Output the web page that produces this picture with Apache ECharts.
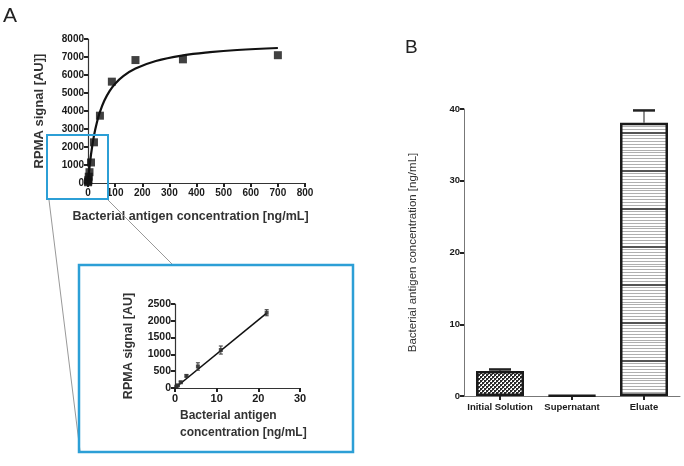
<!DOCTYPE html>
<html><head><meta charset="utf-8">
<script src="https://cdn.jsdelivr.net/npm/echarts@6/dist/echarts.min.js"></script>
<style>html,body{margin:0;padding:0;background:#fff}#c{width:684px;height:466px}</style>
</head><body><div id="c"></div>
<script>
// ---- Panel A main: measured points ----
const concA = [0.34, 0.69, 1.375, 2.75, 5.5, 11, 22, 44, 88, 175, 350, 700];
const signalA = [40, 90, 170, 350, 600, 1140, 2260, 3740, 5630, 6830, 6870, 7100];
// fitted curve
const fitX = [0, 5, 11, 22, 33, 44, 60, 80, 100, 130, 175, 250, 350, 450, 550, 700];
const fitY = [0, 800, 1570, 2630, 3380, 3950, 4570, 5120, 5520, 5940, 6360, 6780, 7090, 7270, 7390, 7500];
const xTicksA = [0, 100, 200, 300, 400, 500, 600, 700, 800];
const yTicksA = [0, 1000, 2000, 3000, 4000, 5000, 6000, 7000, 8000];
// ---- Panel A inset ----
const concIn = [0.34, 0.69, 1.375, 2.75, 5.5, 11, 22];
const signalIn = [40, 80, 170, 360, 640, 1130, 2240];
const errIn = [20, 20, 30, 30, 110, 120, 90];
const lineInX = [0, 22];
const lineInY = [0, 2230];
// ---- Panel B ----
const catsB = ['Initial Solution', 'Supernatant', 'Eluate'];
const valsB = [3.5, 0.1, 38.1];
const errB = [0.2, 0, 1.7];

function makePattern(kind) {
  const c = document.createElement('canvas');
  const ctx = c.getContext('2d');
  if (kind === 'dots') {
    c.width = 4; c.height = 4;
    ctx.fillStyle = '#ffffff'; ctx.fillRect(0, 0, 4, 4);
    ctx.fillStyle = '#2a2a2a';
    ctx.fillRect(0, 0, 2, 2); ctx.fillRect(2, 2, 2, 2);
    ctx.fillStyle = '#666666';
    ctx.fillRect(2, 0, 1, 1); ctx.fillRect(0, 2, 1, 1);
  } else {
    c.width = 8; c.height = 38;
    ctx.fillStyle = '#ffffff'; ctx.fillRect(0, 0, 8, 38);
    for (let y = 0; y < 38; y += 3) { ctx.fillStyle = '#b0b0b0'; ctx.fillRect(0, y, 8, 1); }
    ctx.fillStyle = '#555555'; ctx.fillRect(0, 18, 8, 2);
  }
  return { image: c, repeat: 'repeat' };
}

const plain = v => String(v);
const axisFont = { fontFamily: 'Liberation Sans, Arial', fontWeight: 'bold', color: '#1a1a1a', formatter: plain };
const axLine = { show: true, lineStyle: { color: '#333', width: 1.2 } };
const axTick = { show: true, inside: false, length: 4, lineStyle: { color: '#222', width: 2 } };

function errSeries(xi, yi, name, xs, ys, es, cap) {
  return {
    type: 'custom', xAxisIndex: xi, yAxisIndex: yi, name: name, z: 5,
    data: xs.map((x, i) => [x, ys[i], es[i]]),
    renderItem: function (params, api) {
      const x = api.value(0), y = api.value(1), e = api.value(2);
      if (!e) return null;
      const lo = api.coord([x, y - e]), hi = api.coord([x, y + e]);
      const s = { stroke: '#333', lineWidth: 1 };
      return { type: 'group', children: [
        { type: 'line', shape: { x1: lo[0], y1: lo[1], x2: hi[0], y2: hi[1] }, style: s },
        { type: 'line', shape: { x1: hi[0] - cap, y1: hi[1], x2: hi[0] + cap, y2: hi[1] }, style: s },
        { type: 'line', shape: { x1: lo[0] - cap, y1: lo[1], x2: lo[0] + cap, y2: lo[1] }, style: s }
      ]};
    }
  };
}

const chart = echarts.init(document.getElementById('c'), null, { renderer: 'canvas' });
const option = {
  animation: false,
  backgroundColor: '#fff',
  grid: [
    { left: 88, top: 39, width: 217, height: 144 },
    { left: 175, top: 304, width: 125, height: 84 },
    { left: 464, top: 109, width: 216, height: 287 }
  ],
  xAxis: [
    { type: 'value', gridIndex: 0, min: 0, max: 800, interval: 100,
      axisLine: axLine, axisTick: axTick, splitLine: { show: false },
      axisLabel: Object.assign({ fontSize: 10, margin: 5 }, axisFont),
      name: 'Bacterial antigen concentration [ng/mL]', nameLocation: 'middle', nameGap: 27,
      nameTextStyle: { fontFamily: 'Liberation Sans, Arial', fontWeight: 'bold', fontSize: 12.5, color: '#333', padding: [0, 12, 0, 0] } },
    { type: 'value', gridIndex: 1, min: 0, max: 30, interval: 10,
      axisLine: axLine, axisTick: axTick, splitLine: { show: false },
      axisLabel: Object.assign({ fontSize: 11, margin: 5 }, axisFont) },
    { type: 'category', gridIndex: 2, data: catsB,
      axisLine: { show: true, lineStyle: { color: '#777', width: 1 } },
      axisTick: { show: true, alignWithLabel: true, length: 4, lineStyle: { color: '#222', width: 2 } },
      axisLabel: { fontFamily: 'Liberation Sans, Arial', fontWeight: 'bold', color: '#1a1a1a', fontSize: 9.5, margin: 6, interval: 0 } }
  ],
  yAxis: [
    { type: 'value', gridIndex: 0, min: 0, max: 8000, interval: 1000,
      axisLine: axLine, axisTick: axTick, splitLine: { show: false },
      axisLabel: Object.assign({ fontSize: 10, margin: 4 }, axisFont),
      name: 'RPMA signal [AU]]', nameLocation: 'middle', nameGap: 42, nameRotate: 90,
      nameTextStyle: { fontFamily: 'Liberation Sans, Arial', fontWeight: 'bold', fontSize: 13, color: '#333' } },
    { type: 'value', gridIndex: 1, min: 0, max: 2500, interval: 500,
      axisLine: axLine, axisTick: axTick, splitLine: { show: false },
      axisLabel: Object.assign({ fontSize: 10.5, margin: 4 }, axisFont),
      name: 'RPMA signal [AU]', nameLocation: 'middle', nameGap: 40, nameRotate: 90,
      nameTextStyle: { fontFamily: 'Liberation Sans, Arial', fontWeight: 'bold', fontSize: 12.5, color: '#333' } },
    { type: 'value', gridIndex: 2, min: 0, max: 40, interval: 10,
      axisLine: { show: true, lineStyle: { color: '#777', width: 1 } },
      axisTick: { show: true, length: 4, lineStyle: { color: '#222', width: 2 } },
      splitLine: { show: false },
      axisLabel: Object.assign({ fontSize: 9.5, margin: 4 }, axisFont),
      name: 'Bacterial antigen concentration [ng/mL]', nameLocation: 'middle', nameGap: 45, nameRotate: 90,
      nameTextStyle: { fontFamily: 'Liberation Sans, Arial', fontSize: 11.5, color: '#333' } }
  ],
  series: [
    { type: 'line', xAxisIndex: 0, yAxisIndex: 0, data: fitX.map((x, i) => [x, fitY[i]]),
      smooth: 0.4, showSymbol: false, lineStyle: { color: '#111', width: 2.2 }, z: 3 },
    { type: 'scatter', xAxisIndex: 0, yAxisIndex: 0, data: concA.map((x, i) => [x, signalA[i]]),
      symbol: 'rect', symbolSize: 8, itemStyle: { color: '#111' }, z: 4 },
    { type: 'line', xAxisIndex: 1, yAxisIndex: 1, data: lineInX.map((x, i) => [x, lineInY[i]]),
      showSymbol: false, lineStyle: { color: '#111', width: 1.6 }, z: 3 },
    errSeries(1, 1, 'errIn', concIn, signalIn, errIn, 2),
    { type: 'scatter', xAxisIndex: 1, yAxisIndex: 1, data: concIn.map((x, i) => [x, signalIn[i]]),
      symbol: 'rect', symbolSize: 4, itemStyle: { color: '#222' }, z: 4 },
    { type: 'bar', xAxisIndex: 2, yAxisIndex: 2, barWidth: 48,
      data: valsB.map((v, i) => ({ value: v, itemStyle: {
        color: i === 0 ? makePattern('dots') : (i === 2 ? makePattern('lines') : '#222'),
        borderColor: '#1a1a1a', borderWidth: 2.5 } })), z: 3 },
    { type: 'custom', xAxisIndex: 2, yAxisIndex: 2, z: 5,
      data: valsB.map((v, i) => [i, v, errB[i]]),
      renderItem: function (params, api) {
        const e = api.value(2);
        if (!e) return null;
        const b = api.coord([api.value(0), api.value(1)]);
        const t = api.coord([api.value(0), api.value(1) + e]);
        return { type: 'group', children: [
          { type: 'line', shape: { x1: b[0], y1: b[1], x2: t[0], y2: t[1] }, style: { stroke: '#444', lineWidth: 1.2 } },
          { type: 'line', shape: { x1: t[0] - 11, y1: t[1], x2: t[0] + 11, y2: t[1] }, style: { stroke: '#222', lineWidth: 2.5 } }
        ]};
      } }
  ],
  graphic: [
    { type: 'text', left: 3, top: 6, style: { text: 'A', fontSize: 21, fontFamily: 'Liberation Sans, Arial', fill: '#222' } },
    { type: 'text', left: 405, top: 38, style: { text: 'B', fontSize: 19, fontFamily: 'Liberation Sans, Arial', fill: '#222' } },
    { type: 'text', left: 180, top: 407, style: { text: 'Bacterial antigen\nconcentration [ng/mL]', fontSize: 12, lineHeight: 17, fontWeight: 'bold', fontFamily: 'Liberation Sans, Arial', fill: '#333' } },
    { type: 'rect', shape: { x: 47, y: 135, width: 61, height: 64 }, style: { fill: 'none', stroke: '#2c9fd6', lineWidth: 2 }, z: 10 },
    { type: 'rect', shape: { x: 79, y: 265, width: 274, height: 187 }, style: { fill: 'none', stroke: '#2c9fd6', lineWidth: 2.5 }, z: 10 },
    { type: 'line', shape: { x1: 49, y1: 200, x2: 80, y2: 451 }, style: { stroke: '#999', lineWidth: 1 }, z: 9 },
    { type: 'line', shape: { x1: 108, y1: 200, x2: 172, y2: 264 }, style: { stroke: '#999', lineWidth: 1 }, z: 9 }
  ]
};
chart.setOption(option);
</script></body></html>
